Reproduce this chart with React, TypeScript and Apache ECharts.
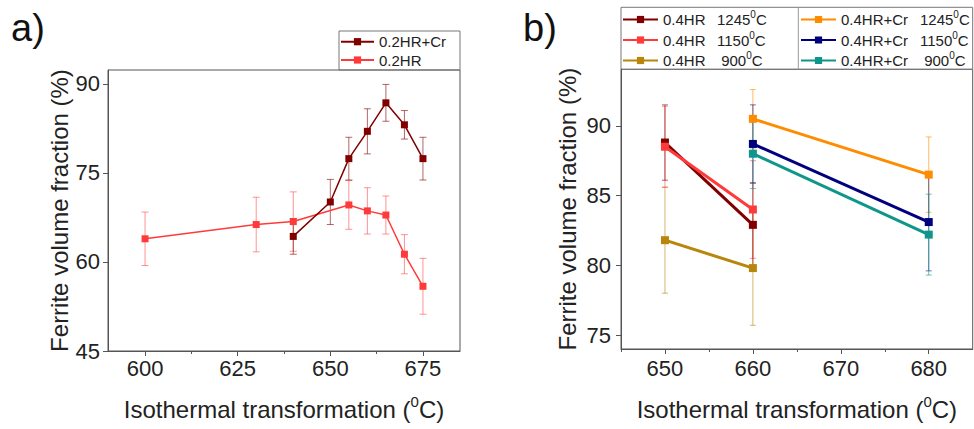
import React, { useEffect, useRef } from "react";
import * as echarts from "echarts";

// ---------- Panel a) data ----------
const aNames = ["0.2HR+Cr", "0.2HR"];
const aX_Cr = [640, 650, 655, 660, 665, 670, 675];
const aY_Cr = [64.3, 70.1, 77.4, 82.0, 86.8, 83.1, 77.4];
const aErr_Cr = [3.0, 3.8, 3.6, 3.8, 3.1, 2.4, 3.6];
const aX_HR = [600, 630, 640, 655, 660, 665, 670, 675];
const aY_HR = [63.9, 66.3, 66.8, 69.6, 68.6, 67.9, 61.3, 55.9];
const aErr_HR = [4.5, 4.6, 5.0, 4.1, 3.9, 3.2, 3.3, 4.7];
const aXTicks = [600, 625, 650, 675];
const aXMinor = [612.5, 637.5, 662.5];
const aYTicks = [45, 60, 75, 90];

// ---------- Panel b) data ----------
const bNames = [
  "0.4HR 1245⁰C",
  "0.4HR 1150⁰C",
  "0.4HR 900⁰C",
  "0.4HR+Cr 1245⁰C",
  "0.4HR+Cr 1150⁰C",
  "0.4HR+Cr 900⁰C",
];
const bX_HR = [650, 660];
const bX_Cr = [660, 680];
const bY_HR1245 = [88.8, 82.9];
const bErr_HR1245 = [2.7, 3.0];
const bY_HR1150 = [88.5, 84.0];
const bErr_HR1150 = [2.9, 3.5];
const bY_HR900 = [81.8, 79.8];
const bErr_HR900 = [3.8, 4.1];
const bY_Cr1245 = [90.5, 86.5];
const bErr_Cr1245 = [2.1, 2.7];
const bY_Cr1150 = [88.7, 83.1];
const bErr_Cr1150 = [2.8, 3.5];
const bY_Cr900 = [88.0, 82.2];
const bErr_Cr900 = [2.5, 2.9];
const bXTicks = [650, 660, 670, 680];
const bXMinor = [645, 655, 665, 675];
const bYTicks = [75, 80, 85, 90];

const FONT = "Liberation Sans";
const AXIS = "#555";

const pts = (xs: number[], ys: number[]) => xs.map((x, i) => [x, ys[i]]);
const errPts = (xs: number[], ys: number[], es: number[]) =>
  xs.map((x, i) => [x, ys[i] - es[i], ys[i] + es[i]]);

function errSeries(
  data: number[][],
  color: string,
  idx: number,
  capW: number,
  opacity: number
) {
  return {
    type: "custom",
    xAxisIndex: idx,
    yAxisIndex: idx,
    silent: true,
    z: 1,
    encode: { x: 0, y: [1, 2] },
    data,
    renderItem: (_p: any, api: any) => {
      const x = api.value(0);
      const lo = api.coord([x, api.value(1)]);
      const hi = api.coord([x, api.value(2)]);
      const hw = capW / 2;
      const st = { stroke: color, lineWidth: 1, opacity };
      return {
        type: "group",
        children: [
          { type: "line", shape: { x1: lo[0], y1: lo[1], x2: hi[0], y2: hi[1] }, style: st },
          { type: "line", shape: { x1: lo[0] - hw, y1: lo[1], x2: lo[0] + hw, y2: lo[1] }, style: st },
          { type: "line", shape: { x1: hi[0] - hw, y1: hi[1], x2: hi[0] + hw, y2: hi[1] }, style: st },
        ],
      };
    },
  };
}

function lineSeries(name: string, data: number[][], color: string, idx: number, width: number, size: number) {
  return {
    type: "line",
    name,
    xAxisIndex: idx,
    yAxisIndex: idx,
    data,
    symbol: "rect",
    symbolSize: size,
    showSymbol: true,
    z: 3,
    lineStyle: { color, width },
    itemStyle: { color },
  };
}

const xAxisBase = (idx: number, min: number, max: number, ticks: number[], margin: number, gap: number) => ({
  type: "value",
  gridIndex: idx,
  min,
  max,
  name: "Isothermal transformation ({s|0}C)",
  nameLocation: "middle",
  nameGap: gap,
  nameTextStyle: {
    fontFamily: FONT,
    fontSize: 24,
    lineHeight: 30,
    color: "#222",
    rich: { s: { fontFamily: FONT, fontSize: 15, lineHeight: 15, verticalAlign: "top", color: "#222" } },
  },
  splitLine: { show: false },
  axisLine: { show: true, onZero: false, lineStyle: { color: AXIS, width: 1 } },
  axisTick: { show: true, length: 5, customValues: ticks, lineStyle: { color: AXIS } },
  axisLabel: { customValues: ticks, margin, fontFamily: FONT, fontSize: 22, color: "#222" },
});

const minorAxis = (idx: number, min: number, max: number, vals: number[]) => ({
  type: "value",
  gridIndex: idx,
  min,
  max,
  position: "bottom",
  splitLine: { show: false },
  axisLine: { show: false, onZero: false },
  axisLabel: { show: false },
  axisTick: { show: true, length: 3, customValues: vals, lineStyle: { color: AXIS } },
});

const yAxisBase = (idx: number, min: number, max: number, ticks: number[], margin: number, gap: number) => ({
  type: "value",
  gridIndex: idx,
  min,
  max,
  name: "Ferrite volume fraction (%)",
  nameLocation: "middle",
  nameGap: gap,
  nameRotate: 90,
  nameTextStyle: { fontFamily: FONT, fontSize: 24, color: "#222" },
  splitLine: { show: false },
  axisLine: { show: true, onZero: false, lineStyle: { color: AXIS, width: 1 } },
  axisTick: { show: true, length: 5, customValues: ticks, lineStyle: { color: AXIS } },
  axisLabel: { customValues: ticks, margin, fontFamily: FONT, fontSize: 22, color: "#222" },
});

const legendRich = {
  a1: { fontFamily: FONT, fontSize: 15, lineHeight: 20, width: 54, color: "#222" },
  a2: { fontFamily: FONT, fontSize: 15, lineHeight: 20, width: 79, color: "#222" },
  b: { fontFamily: FONT, fontSize: 15, lineHeight: 20, color: "#222" },
  s: { fontFamily: FONT, fontSize: 10, lineHeight: 10, verticalAlign: "top", color: "#222" },
};

function fmtLegend(name: string) {
  const parts = name.split(" ");
  const label = parts[0];
  const temp = parts[1].replace("⁰C", "");
  const key = label.indexOf("Cr") >= 0 ? "a2" : "a1";
  const t = temp.length === 3 ? " " + temp : temp;
  return `{${key}|${label}}{b|${t}}{s|0}{b|C}`;
}

export default function App() {
  const ref = useRef<HTMLDivElement>(null);
  useEffect(() => {
    if (!ref.current) return;
    const chart = echarts.init(ref.current, undefined, { renderer: "svg" });
    const cDark = "#800000";
    const cRed = "#ff3a3a";
    const cGold = "#b8860b";
    const cOrange = "#ff8c00";
    const cNavy = "#00007f";
    const cTeal = "#0f968a";

    const option: any = {
      animation: false,
      backgroundColor: "#fff",
      textStyle: { fontFamily: FONT },
      grid: [
        { left: 108, top: 70, width: 352, height: 283.3, show: true, borderColor: AXIS, borderWidth: 1, backgroundColor: "transparent" },
        { left: 621, top: 69.3, width: 351.7, height: 284, show: true, borderColor: AXIS, borderWidth: 1, backgroundColor: "transparent" },
      ],
      xAxis: [
        xAxisBase(0, 590, 685, aXTicks, 6, 43),
        xAxisBase(1, 645, 685, bXTicks, 8, 45),
        minorAxis(0, 590, 685, aXMinor),
        minorAxis(1, 645, 685, bXMinor),
      ],
      yAxis: [
        yAxisBase(0, 45, 92.33, aYTicks, 8, 34),
        yAxisBase(1, 74, 94.05, bYTicks, 10, 42),
      ],
      legend: [
        {
          data: aNames,
          orient: "vertical",
          left: 340,
          top: 33.7,
          padding: 0,
          itemGap: 2.3,
          itemWidth: 33,
          itemHeight: 9,
          textStyle: { fontFamily: FONT, fontSize: 15, lineHeight: 16, color: "#222" },
        },
        {
          data: bNames.slice(0, 3),
          orient: "vertical",
          left: 622,
          top: 9.5,
          padding: 0,
          itemGap: 0.5,
          itemWidth: 35,
          itemHeight: 9,
          formatter: fmtLegend,
          textStyle: { fontFamily: FONT, fontSize: 15, lineHeight: 20, color: "#222", rich: legendRich },
        },
        {
          data: bNames.slice(3),
          orient: "vertical",
          left: 800,
          top: 9.5,
          padding: 0,
          itemGap: 0.5,
          itemWidth: 35,
          itemHeight: 9,
          formatter: fmtLegend,
          textStyle: { fontFamily: FONT, fontSize: 15, lineHeight: 20, color: "#222", rich: legendRich },
        },
      ],
      graphic: [
        { type: "rect", shape: { x: 339, y: 31, width: 121, height: 39 }, style: { fill: "none", stroke: "#777", lineWidth: 1 }, z: 0 },
        { type: "rect", shape: { x: 621, y: 7.3, width: 351.7, height: 62 }, style: { fill: "none", stroke: "#777", lineWidth: 1 }, z: 0 },
        { type: "line", shape: { x1: 798.3, y1: 7.3, x2: 798.3, y2: 69.3 }, style: { stroke: "#999", lineWidth: 1 }, z: 0 },
        { type: "text", x: 11, y: 9, style: { text: "a)", fontFamily: FONT, fontSize: 38, fill: "#111", textVerticalAlign: "top" } },
        { type: "text", x: 523, y: 9, style: { text: "b)", fontFamily: FONT, fontSize: 38, fill: "#111", textVerticalAlign: "top" } },
      ],
      series: [
        errSeries(errPts(aX_HR, aY_HR, aErr_HR), cRed, 0, 7, 0.55),
        errSeries(errPts(aX_Cr, aY_Cr, aErr_Cr), cDark, 0, 7, 0.6),
        lineSeries(aNames[1], pts(aX_HR, aY_HR), cRed, 0, 1.5, 7),
        lineSeries(aNames[0], pts(aX_Cr, aY_Cr), cDark, 0, 1.5, 7),

        errSeries(errPts(bX_HR, bY_HR900, bErr_HR900), cGold, 1, 6, 0.6),
        errSeries(errPts(bX_HR, bY_HR1150, bErr_HR1150), cRed, 1, 6, 0.55),
        errSeries(errPts(bX_HR, bY_HR1245, bErr_HR1245), cDark, 1, 6, 0.6),
        errSeries(errPts(bX_Cr, bY_Cr1245, bErr_Cr1245), cOrange, 1, 6, 0.6),
        errSeries(errPts(bX_Cr, bY_Cr1150, bErr_Cr1150), cNavy, 1, 6, 0.55),
        errSeries(errPts(bX_Cr, bY_Cr900, bErr_Cr900), cTeal, 1, 6, 0.6),
        lineSeries(bNames[0], pts(bX_HR, bY_HR1245), cDark, 1, 3, 8),
        lineSeries(bNames[1], pts(bX_HR, bY_HR1150), cRed, 1, 3, 8),
        lineSeries(bNames[2], pts(bX_HR, bY_HR900), cGold, 1, 3, 8),
        lineSeries(bNames[3], pts(bX_Cr, bY_Cr1245), cOrange, 1, 3, 8),
        lineSeries(bNames[4], pts(bX_Cr, bY_Cr1150), cNavy, 1, 3, 8),
        lineSeries(bNames[5], pts(bX_Cr, bY_Cr900), cTeal, 1, 3, 8),
      ],
    };
    chart.setOption(option);
    return () => chart.dispose();
  }, []);
  return (
    <div
      ref={ref}
      style={{ position: "fixed", left: 0, top: 0, width: 974, height: 429, background: "#fff" }}
    />
  );
}
